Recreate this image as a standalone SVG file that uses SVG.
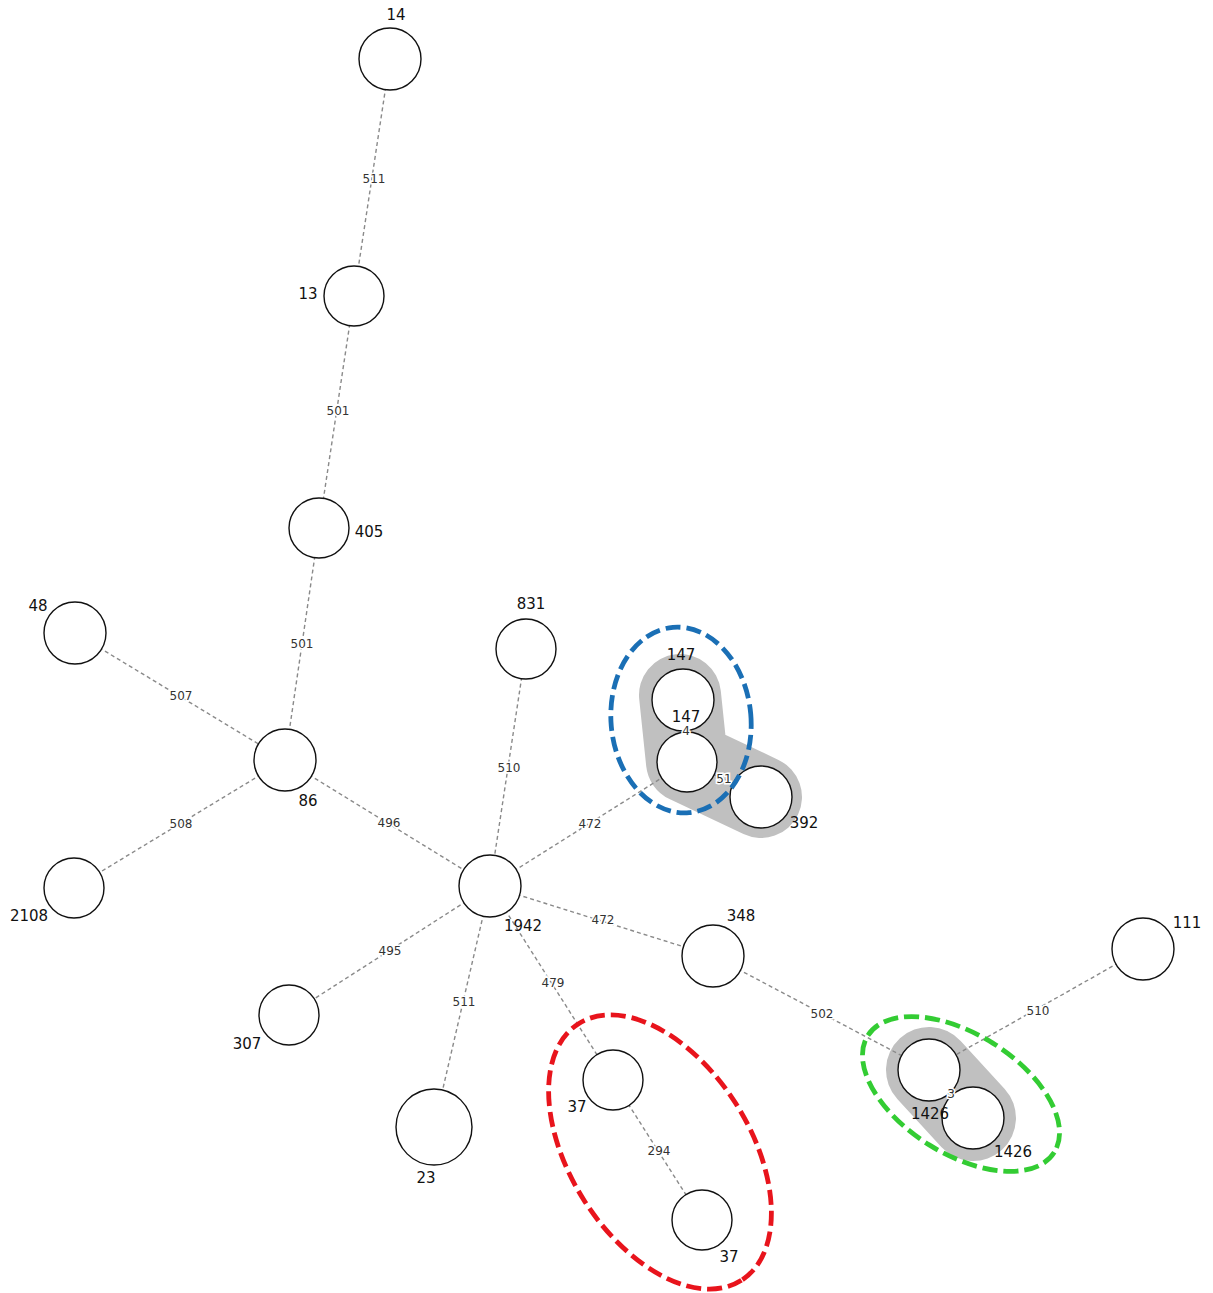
<svg xmlns="http://www.w3.org/2000/svg" width="1213" height="1293" viewBox="0 0 1213 1293">
<style>
.e{stroke:#8a8a8a;stroke-width:1.4;stroke-dasharray:4 3;fill:none}
.el{font-family:"DejaVu Sans",Verdana,sans-serif;font-size:12px;fill:#333;text-anchor:middle;stroke:#fff;stroke-width:3;paint-order:stroke}
.n{fill:#fff;stroke:#111;stroke-width:1.4}
.nl{font-family:"DejaVu Sans",Verdana,sans-serif;font-size:15px;fill:#111;text-anchor:middle}
.hull{fill:none;stroke:#c0c0c0;stroke-linecap:round;stroke-linejoin:round}
.grp{fill:none;stroke-width:4.8;stroke-dasharray:15 6}
</style>
<rect width="1213" height="1293" fill="#fff"/>
<g id="hulls">
<polyline class="hull" points="680,695 687,762 761,797" stroke-width="82"/>
<polyline class="hull" points="929,1070 973,1118" stroke-width="86"/>
</g>
<g id="connectors">
<line class="e" x1="390" y1="59" x2="354" y2="296"/>
<line class="e" x1="354" y1="296" x2="319" y2="528"/>
<line class="e" x1="319" y1="528" x2="285" y2="760"/>
<line class="e" x1="75" y1="633" x2="285" y2="760"/>
<line class="e" x1="285" y1="760" x2="74" y2="888"/>
<line class="e" x1="285" y1="760" x2="490" y2="886"/>
<line class="e" x1="526" y1="649" x2="490" y2="886"/>
<line class="e" x1="490" y1="886" x2="687" y2="762"/>
<line class="e" x1="490" y1="886" x2="713" y2="956"/>
<line class="e" x1="490" y1="886" x2="289" y2="1015"/>
<line class="e" x1="490" y1="886" x2="434" y2="1127"/>
<line class="e" x1="490" y1="886" x2="613" y2="1080"/>
<line class="e" x1="613" y1="1080" x2="702" y2="1220"/>
<line class="e" x1="713" y1="956" x2="929" y2="1070"/>
<line class="e" x1="1143" y1="949" x2="929" y2="1070"/>
<line class="e" x1="683" y1="700" x2="687" y2="762"/>
<line class="e" x1="687" y1="762" x2="761" y2="797"/>
<line class="e" x1="929" y1="1070" x2="973" y2="1118"/>
<text class="el" x="374" y="183">511</text>
<text class="el" x="338" y="415">501</text>
<text class="el" x="302" y="648">501</text>
<text class="el" x="181" y="700">507</text>
<text class="el" x="181" y="828">508</text>
<text class="el" x="389" y="827">496</text>
<text class="el" x="509" y="772">510</text>
<text class="el" x="590" y="828">472</text>
<text class="el" x="603" y="924">472</text>
<text class="el" x="390" y="955">495</text>
<text class="el" x="464" y="1006">511</text>
<text class="el" x="553" y="987">479</text>
<text class="el" x="659" y="1155">294</text>
<text class="el" x="822" y="1018">502</text>
<text class="el" x="1038" y="1015">510</text>
</g>
<g id="n14"><circle class="n" cx="390" cy="59" r="31"/><text class="nl" x="396" y="20">14</text></g>
<g id="n13"><circle class="n" cx="354" cy="296" r="30"/><text class="nl" x="308" y="299">13</text></g>
<g id="n405"><circle class="n" cx="319" cy="528" r="30"/><text class="nl" x="369" y="537">405</text></g>
<g id="n48"><circle class="n" cx="75" cy="633" r="31"/><text class="nl" x="38" y="611">48</text></g>
<g id="n86"><circle class="n" cx="285" cy="760" r="31"/><text class="nl" x="308" y="806">86</text></g>
<g id="n2108"><circle class="n" cx="74" cy="888" r="30"/><text class="nl" x="29" y="921">2108</text></g>
<g id="n831"><circle class="n" cx="526" cy="649" r="30"/><text class="nl" x="531" y="609">831</text></g>
<g id="n1942"><circle class="n" cx="490" cy="886" r="31"/><text class="nl" x="523" y="931">1942</text></g>
<g id="n307"><circle class="n" cx="289" cy="1015" r="30"/><text class="nl" x="247" y="1049">307</text></g>
<g id="n23"><circle class="n" cx="434" cy="1127" r="38"/><text class="nl" x="426" y="1183">23</text></g>
<g id="n348"><circle class="n" cx="713" cy="956" r="31"/><text class="nl" x="741" y="921">348</text></g>
<g id="n111"><circle class="n" cx="1143" cy="949" r="31"/><text class="nl" x="1187" y="928">111</text></g>
<g id="n37a"><circle class="n" cx="613" cy="1080" r="30"/><text class="nl" x="577" y="1112">37</text></g>
<g id="n37b"><circle class="n" cx="702" cy="1220" r="30"/><text class="nl" x="729" y="1262">37</text></g>
<g id="n392"><circle class="n" cx="761" cy="797" r="31"/><text class="nl" x="804" y="828">392</text></g>
<g id="n147a"><circle class="n" cx="683" cy="700" r="31"/><text class="nl" x="681" y="660">147</text></g>
<g id="n147b"><circle class="n" cx="687" cy="762" r="30"/><text class="nl" x="686" y="722">147</text></g>
<g id="n1426b"><circle class="n" cx="973" cy="1118" r="31"/><text class="nl" x="1013" y="1157">1426</text></g>
<g id="n1426a"><circle class="n" cx="929" cy="1070" r="31"/><text class="nl" x="930" y="1119">1426</text></g>
<g id="inner-labels">
<text class="el" x="686" y="735" stroke="none">4</text>
<text class="el" x="724" y="783" stroke="none">51</text>
<text class="el" x="951" y="1098" stroke="none">3</text>
</g>
<g id="groups">
<ellipse class="grp" stroke="#1a6fb5" cx="681" cy="720" rx="70" ry="93" transform="rotate(-5 681 720)"/>
<ellipse class="grp" stroke="#e8141c" cx="660" cy="1152" rx="152" ry="90" transform="rotate(57.6 660 1152)"/>
<ellipse class="grp" stroke="#33cc33" cx="961" cy="1094" rx="110" ry="60" transform="rotate(32 961 1094)"/>
</g>
</svg>
